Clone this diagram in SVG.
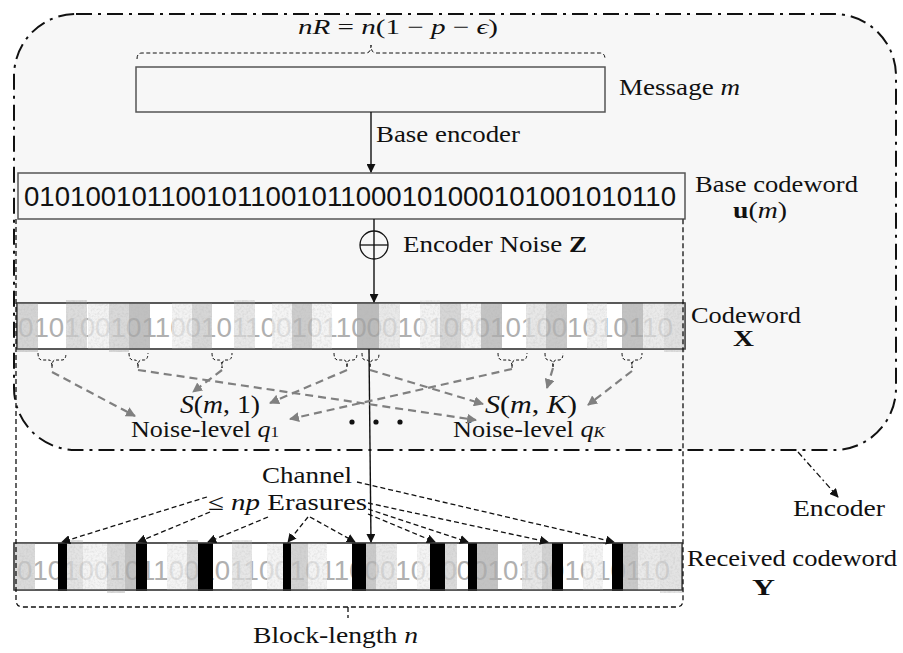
<svg xmlns="http://www.w3.org/2000/svg" width="903" height="653" viewBox="0 0 903 653">
<style>
.lbl{font-family:"Liberation Serif","Times New Roman",serif;font-size:23px;fill:#111}
.it{font-style:italic}
.bd{font-weight:bold}
.dig{font-family:"Liberation Sans",Arial,sans-serif;font-size:28px}
.box{fill:#f7f7f7;stroke:#555;stroke-width:1.5}
.wbox{fill:#ffffff;stroke:#444;stroke-width:1.3}
.solid{stroke:#111;stroke-width:1.4;fill:none}
.blk{stroke:#111;stroke-width:1.3;fill:none;stroke-dasharray:5 3}
.gry{stroke:#808080;stroke-width:2.2;fill:none;stroke-dasharray:8 5}
.brk{stroke:#111;stroke-width:1;fill:none;stroke-dasharray:3 2}
.erase{fill:#000}
.bars rect{fill-opacity:0.72}
</style>
<defs>
<marker id="ab" viewBox="0 0 10 10" refX="9" refY="5" markerWidth="9" markerHeight="9" markerUnits="userSpaceOnUse" orient="auto"><path d="M0,0 L10,5 L0,10 z" fill="#111"/></marker>
<marker id="ag" viewBox="0 0 10 10" refX="9" refY="5" markerWidth="10" markerHeight="10" markerUnits="userSpaceOnUse" orient="auto"><path d="M0,0 L10,5 L0,10 z" fill="#808080"/></marker>
<filter id="tex" x="0" y="0" width="1" height="1">
<feTurbulence type="fractalNoise" baseFrequency="0.45" numOctaves="2" seed="4" result="n"/>
<feColorMatrix in="n" type="matrix" values="0 0 0 0 0.45  0 0 0 0 0.45  0 0 0 0 0.45  0 0 0 -0.9 0.55" result="g"/>
<feComposite in="g" in2="SourceGraphic" operator="in" result="gi"/>
<feMerge><feMergeNode in="SourceGraphic"/><feMergeNode in="gi"/></feMerge>
</filter>
</defs>

<g id="encoder">
<rect x="14" y="14" width="882" height="436" rx="62" ry="62" fill="#f7f7f7" stroke="#111" stroke-width="2" stroke-dasharray="16 6 3 6"/>
</g>

<g id="message">
<path class="brk" d="M137,59 Q137,53 142,53 H366 Q371,53 371,45 Q371,53 376,53 H600 Q605,53 605,59" style="stroke-dasharray:4 2.5"/>
<text class="lbl" x="298" y="34" textLength="200" lengthAdjust="spacingAndGlyphs" style="font-size:21px"><tspan class="it">nR</tspan> = <tspan class="it">n</tspan>(1 − <tspan class="it">p</tspan> − <tspan class="it">ϵ</tspan>)</text>
<rect class="box" x="136" y="67" width="469" height="45"/>
<text class="lbl" x="619" y="95" textLength="121" lengthAdjust="spacingAndGlyphs">Message <tspan class="it">m</tspan></text>
</g>

<g id="base-codeword">
<rect class="box" x="18" y="173" width="667" height="46"/>
<text class="dig" x="24" y="206" fill="#111" textLength="652" lengthAdjust="spacingAndGlyphs">0101001011001011001011000101000101001010110</text>
<text class="lbl" x="695" y="192" textLength="163" lengthAdjust="spacingAndGlyphs">Base codeword</text>
<text class="lbl" x="733" y="218" textLength="54" lengthAdjust="spacingAndGlyphs"><tspan class="bd">u</tspan>(<tspan class="it">m</tspan>)</text>
</g>

<g id="noise">
<circle cx="374" cy="245" r="14" fill="none" stroke="#111" stroke-width="1.3"/>
<line x1="360" y1="245" x2="388" y2="245" stroke="#111" stroke-width="1.3"/>
<text class="lbl" x="403" y="252" textLength="184" lengthAdjust="spacingAndGlyphs">Encoder Noise <tspan class="bd">Z</tspan></text>
</g>

<g id="codeword-x">
<rect class="wbox" x="17" y="303" width="668" height="46"/>
<text class="dig" x="18" y="337" fill="#b0b0b0" textLength="655" lengthAdjust="spacingAndGlyphs">0101001011001011001011000101000101001010110</text>
<g class="bars" filter="url(#tex)">
<rect x="17" y="303" width="21" height="49" fill="#c4c4c4"/>
<rect x="66" y="300" width="21" height="48" fill="#cfcfcf"/>
<rect x="88" y="303" width="21" height="46" fill="#efefef"/>
<rect x="109" y="303" width="20" height="49" fill="#cacaca"/>
<rect x="129" y="303" width="21" height="47" fill="#a8a8a8"/>
<rect x="172" y="303" width="20" height="46" fill="#efefef"/>
<rect x="192" y="303" width="20" height="46" fill="#c6c6c6"/>
<rect x="234" y="300" width="21" height="49" fill="#dedede"/>
<rect x="272" y="303" width="20" height="46" fill="#f0f0f0"/>
<rect x="292" y="303" width="20" height="47" fill="#b8b8b8"/>
<rect x="312" y="303" width="20" height="46" fill="#f0f0f0"/>
<rect x="357" y="303" width="22" height="47" fill="#a2a2a2"/>
<rect x="379" y="303" width="21" height="46" fill="#e0e0e0"/>
<rect x="420" y="300" width="20" height="49" fill="#efefef"/>
<rect x="440" y="303" width="21" height="46" fill="#c6c6c6"/>
<rect x="461" y="303" width="20" height="46" fill="#f0f0f0"/>
<rect x="481" y="303" width="21" height="47" fill="#adadad"/>
<rect x="526" y="303" width="20" height="46" fill="#dedede"/>
<rect x="546" y="303" width="21" height="46" fill="#b4b4b4"/>
<rect x="587" y="303" width="20" height="46" fill="#ebebeb"/>
<rect x="622" y="303" width="21" height="46" fill="#aaaaaa"/>
<rect x="643" y="303" width="21" height="46" fill="#e2e2e2"/>
<rect x="664" y="303" width="21" height="49" fill="#d4d4d4"/>
</g>
<rect x="17" y="303" width="668" height="46" fill="none" stroke="#444" stroke-width="1.3"/>
<text class="lbl" x="691" y="323" textLength="110" lengthAdjust="spacingAndGlyphs">Codeword</text>
<text class="lbl bd" x="733" y="346" textLength="21" lengthAdjust="spacingAndGlyphs">X</text>
</g>

<g id="subsets">
<path class="brk" d="M38,353 Q38,360 42,360 H49 Q52,360 52,368 Q52,360 55,360 H62 Q66,360 66,353"/>
<path class="brk" d="M129,353 Q129,360 133,360 H135 Q138,360 138,368 Q138,360 141,360 H144 Q148,360 148,353"/>
<path class="brk" d="M212,353 Q212,360 216,360 H219 Q222,360 222,368 Q222,360 225,360 H228 Q232,360 232,353"/>
<path class="brk" d="M334,353 Q334,360 338,360 H344 Q347,360 347,368 Q347,360 350,360 H353 Q357,360 357,353"/>
<path class="brk" d="M362,353 Q362,360 365,360 H367 Q370,360 370,368 Q370,360 373,360 H376 Q379,360 379,353"/>
<path class="brk" d="M498,353 Q498,360 502,360 H509 Q512,360 512,368 Q512,360 515,360 H523 Q527,360 527,353"/>
<path class="brk" d="M545,353 Q545,360 548,360 H550 Q553,360 553,368 Q553,360 556,360 H559 Q563,360 563,353"/>
<path class="brk" d="M622,353 Q622,360 626,360 H629 Q632,360 632,368 Q632,360 635,360 H638 Q642,360 642,353"/>
<text class="lbl" x="180" y="413" textLength="80" lengthAdjust="spacingAndGlyphs" style="font-size:25px"><tspan class="it">S</tspan>(<tspan class="it">m</tspan>, 1)</text>
<text class="lbl" x="131" y="437" textLength="148" lengthAdjust="spacingAndGlyphs">Noise-level <tspan class="it">q</tspan><tspan style="font-size:15px">1</tspan></text>
<text class="lbl" x="485" y="413" textLength="92" lengthAdjust="spacingAndGlyphs" style="font-size:25px"><tspan class="it">S</tspan>(<tspan class="it">m</tspan>, <tspan class="it">K</tspan>)</text>
<text class="lbl" x="453" y="437" textLength="152" lengthAdjust="spacingAndGlyphs">Noise-level <tspan class="it">q</tspan><tspan class="it" style="font-size:15px">K</tspan></text>
<circle cx="352" cy="422" r="2.6" fill="#111"/>
<circle cx="376" cy="422" r="2.6" fill="#111"/>
<circle cx="400" cy="422" r="2.6" fill="#111"/>
</g>

<g id="received-codeword">
<rect class="wbox" x="14" y="543" width="668" height="47"/>
<text class="dig" x="17" y="580" fill="#b0b0b0" textLength="653" lengthAdjust="spacingAndGlyphs">0101001011001011001011000101000101001010110</text>
<g class="bars" filter="url(#tex)">
<rect x="15" y="543" width="20" height="47" fill="#cccccc"/>
<rect x="67" y="540" width="16" height="50" fill="#d8d8d8"/>
<rect x="83" y="543" width="24" height="47" fill="#f0f0f0"/>
<rect x="107" y="543" width="18" height="50" fill="#cccccc"/>
<rect x="125" y="543" width="11" height="47" fill="#aaaaaa"/>
<rect x="167" y="543" width="20" height="47" fill="#f0f0f0"/>
<rect x="187" y="540" width="11" height="50" fill="#c8c8c8"/>
<rect x="232" y="540" width="20" height="50" fill="#dedede"/>
<rect x="267" y="543" width="16" height="47" fill="#f0f0f0"/>
<rect x="291" y="543" width="17" height="47" fill="#c0c0c0"/>
<rect x="308" y="543" width="19" height="47" fill="#f0f0f0"/>
<rect x="366" y="543" width="10" height="47" fill="#b4b4b4"/>
<rect x="376" y="543" width="21" height="47" fill="#e0e0e0"/>
<rect x="417" y="543" width="13" height="47" fill="#f0f0f0"/>
<rect x="445" y="543" width="12" height="47" fill="#cccccc"/>
<rect x="477" y="543" width="21" height="47" fill="#acacac"/>
<rect x="522" y="543" width="20" height="47" fill="#dedede"/>
<rect x="542" y="543" width="10" height="47" fill="#c0c0c0"/>
<rect x="583" y="543" width="20" height="47" fill="#f0f0f0"/>
<rect x="623" y="543" width="15" height="47" fill="#b4b4b4"/>
<rect x="638" y="543" width="22" height="47" fill="#e2e2e2"/>
<rect x="660" y="543" width="22" height="50" fill="#d8d8d8"/>
</g>
<rect class="erase" x="58" y="543" width="9" height="48"/>
<rect class="erase" x="136" y="543" width="11" height="48"/>
<rect class="erase" x="198" y="543" width="15" height="48"/>
<rect class="erase" x="283" y="543" width="8" height="48"/>
<rect class="erase" x="352" y="543" width="14" height="48"/>
<rect class="erase" x="430" y="543" width="15" height="48"/>
<rect class="erase" x="468" y="543" width="9" height="48"/>
<rect class="erase" x="552" y="543" width="11" height="48"/>
<rect class="erase" x="612" y="543" width="11" height="48"/>
<rect x="14" y="543" width="668" height="47" fill="none" stroke="#444" stroke-width="1.3"/>
<text class="lbl" x="687" y="566" textLength="210" lengthAdjust="spacingAndGlyphs">Received codeword</text>
<text class="lbl bd" x="752" y="595" textLength="23" lengthAdjust="spacingAndGlyphs">Y</text>
</g>

<g id="block-length">
<path class="blk" d="M16,219 V600 Q16,607 23,607 H676 Q683,607 683,600 V219 M348,607 V618"/>
<text class="lbl" x="253" y="643" textLength="165" lengthAdjust="spacingAndGlyphs">Block-length <tspan class="it">n</tspan></text>
</g>

<g id="channel-labels">
<text class="lbl" x="262" y="483" textLength="90" lengthAdjust="spacingAndGlyphs">Channel</text>
<text class="lbl" x="208" y="510" textLength="159" lengthAdjust="spacingAndGlyphs">≤ <tspan class="it">np</tspan> Erasures</text>
<text class="lbl" x="793" y="516" textLength="92" lengthAdjust="spacingAndGlyphs">Encoder</text>
</g>

<g id="connectors">
<line class="solid" x1="371" y1="112" x2="371" y2="172" marker-end="url(#ab)"/>
<text class="lbl" x="376" y="142" textLength="144" lengthAdjust="spacingAndGlyphs">Base encoder</text>
<line class="solid" x1="374" y1="219" x2="374" y2="302" marker-end="url(#ab)"/>
<line class="solid" x1="369" y1="349" x2="371" y2="542" marker-end="url(#ab)"/>
<line class="gry" x1="52" y1="372" x2="135" y2="416" marker-end="url(#ag)"/>
<line class="gry" x1="138" y1="370" x2="476" y2="420" marker-end="url(#ag)"/>
<line class="gry" x1="222" y1="370" x2="193" y2="392" marker-end="url(#ag)"/>
<line class="gry" x1="347" y1="370" x2="270" y2="403" marker-end="url(#ag)"/>
<line class="gry" x1="512" y1="369" x2="290" y2="419" marker-end="url(#ag)"/>
<line class="gry" x1="370" y1="370" x2="483" y2="404" marker-end="url(#ag)"/>
<line class="gry" x1="553" y1="368" x2="547" y2="388" marker-end="url(#ag)"/>
<line class="gry" x1="632" y1="371" x2="588" y2="405" marker-end="url(#ag)"/>
<line class="blk" x1="207" y1="497" x2="62" y2="542" marker-end="url(#ab)"/>
<line class="blk" x1="210" y1="512" x2="138" y2="542" marker-end="url(#ab)"/>
<line class="blk" x1="268" y1="517" x2="208" y2="542" marker-end="url(#ab)"/>
<line class="blk" x1="308" y1="517" x2="288" y2="542" marker-end="url(#ab)"/>
<line class="blk" x1="310" y1="517" x2="355" y2="542" marker-end="url(#ab)"/>
<line class="blk" x1="368" y1="514" x2="435" y2="542" marker-end="url(#ab)"/>
<line class="blk" x1="368" y1="509" x2="468" y2="542" marker-end="url(#ab)"/>
<line class="blk" x1="368" y1="503" x2="548" y2="542" marker-end="url(#ab)"/>
<line class="blk" x1="357" y1="482" x2="614" y2="542" marker-end="url(#ab)"/>
<line x1="798" y1="452" x2="838" y2="497" stroke="#111" stroke-width="1.3" stroke-dasharray="6 3 2 3" marker-end="url(#ab)"/>
</g>
</svg>
